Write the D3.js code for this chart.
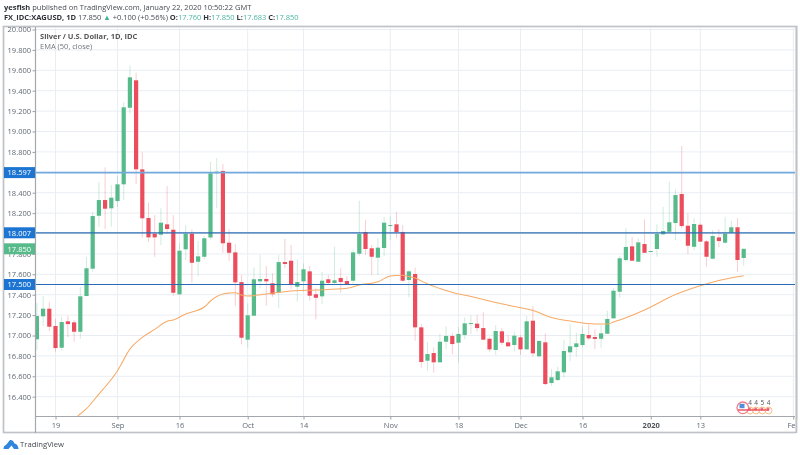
<!DOCTYPE html>
<html><head><meta charset="utf-8">
<script src="https://cdnjs.cloudflare.com/ajax/libs/d3/7.8.5/d3.min.js"></script>
<style>html,body{margin:0;padding:0;background:#fff;overflow:hidden}svg{display:block;filter:blur(0.42px)}text{font-family:"Open Sans","Noto Sans",sans-serif}</style>
</head><body><svg id="c" width="800" height="455"></svg>
<script>
const opens=[16.963,17.188,17.263,17.093,16.880,17.139,17.129,17.037,17.387,17.655,18.174,18.328,18.247,18.318,18.482,19.233,19.502,18.629,18.152,17.998,17.988,18.090,18.037,17.404,17.845,17.998,17.723,17.772,17.961,18.590,18.613,17.910,17.815,17.524,16.959,17.194,17.531,17.554,17.512,17.423,17.720,17.733,17.478,17.531,17.629,17.404,17.384,17.551,17.515,17.564,17.534,17.537,17.802,18.015,17.855,17.763,17.858,18.073,18.090,18.015,17.544,17.603,17.080,16.753,16.828,16.737,16.939,16.995,16.929,17.005,17.116,17.116,17.073,16.968,16.858,17.041,16.933,16.907,16.982,16.864,17.145,16.796,16.933,16.534,16.563,16.639,16.835,16.887,16.907,17.005,16.985,16.968,17.017,17.168,17.429,17.740,17.874,17.723,17.897,17.821,17.848,17.992,18.017,18.103,18.387,18.076,17.870,18.086,17.923,17.753,17.962,17.910,18.008,18.061,17.760];
const closes=[17.191,17.263,17.086,16.877,17.132,17.112,17.037,17.384,17.659,18.171,18.328,18.243,18.351,18.482,19.237,19.531,18.629,18.149,17.962,17.962,18.106,18.044,17.419,17.831,17.998,17.713,17.776,17.953,18.590,18.606,17.904,17.811,17.521,16.978,17.198,17.551,17.554,17.531,17.404,17.720,17.701,17.495,17.524,17.649,17.390,17.370,17.537,17.515,17.541,17.524,17.505,17.815,17.995,17.848,17.772,17.861,18.106,18.083,18.015,17.537,17.629,17.080,16.740,16.818,16.737,16.939,16.995,16.916,17.015,17.119,17.122,17.073,16.959,16.864,17.044,16.929,16.894,16.998,16.864,17.139,16.825,16.946,16.524,16.590,16.649,16.848,16.894,16.923,17.015,16.972,16.966,17.021,17.162,17.439,17.757,17.868,17.733,17.913,17.811,17.828,17.995,18.024,18.110,18.377,18.073,17.880,18.093,17.920,17.772,17.975,17.926,17.998,18.061,17.740,17.850];
const highs=[17.318,17.387,17.328,17.162,17.184,17.191,17.152,17.475,17.769,18.211,18.505,18.649,18.475,18.566,19.286,19.649,19.576,18.796,18.302,18.181,18.247,18.465,18.181,17.907,18.083,18.041,17.926,17.975,18.704,18.740,18.681,18.044,17.897,17.593,17.315,17.668,17.789,17.681,17.610,17.789,17.949,17.887,17.747,17.708,17.681,17.462,17.625,17.593,17.870,17.659,17.583,17.838,18.321,18.132,17.887,17.953,18.165,18.165,18.211,18.083,17.642,17.665,17.113,16.933,16.884,17.015,17.093,17.021,17.086,17.178,17.194,17.201,17.227,16.982,17.103,17.070,17.005,17.037,17.005,17.191,17.289,16.956,17.021,16.671,16.694,16.956,17.113,17.027,17.086,17.110,17.060,17.103,17.243,17.462,17.779,18.051,17.968,17.953,18.139,17.828,18.090,18.262,18.508,18.433,18.858,18.198,18.149,18.100,17.936,18.034,18.041,18.165,18.125,18.149,17.850];
const lows=[16.858,17.093,17.044,16.841,16.851,16.985,16.939,16.966,17.387,17.625,18.061,18.044,18.067,18.262,18.328,19.178,18.485,17.962,17.919,17.772,17.887,18.002,17.390,17.397,17.740,17.517,17.583,17.747,17.943,18.247,17.811,17.730,17.292,16.913,16.880,17.191,17.462,17.292,17.380,17.267,17.659,17.453,17.331,17.429,17.341,17.159,17.306,17.495,17.495,17.419,17.495,17.495,17.782,17.789,17.593,17.593,17.779,17.936,17.953,17.527,17.374,16.949,16.684,16.655,16.635,16.737,16.865,16.816,16.733,16.963,17.012,17.037,16.956,16.841,16.809,16.907,16.890,16.841,16.809,16.858,16.792,16.786,16.514,16.508,16.554,16.590,16.750,16.792,16.884,16.956,16.867,16.880,17.015,17.168,17.370,17.723,17.733,17.723,17.806,17.821,17.772,17.985,18.017,17.936,18.051,17.799,17.838,17.920,17.674,17.747,17.865,17.897,18.002,17.625,17.683];
const emaIndex=[6.6,8,10,11,13,15,17,19,21,22,24,27,28,29,30,31,32,33,34,37,41,45,50,52,55,57,59,60,61,63,65,67,70,74,78,80,83,86,90,92,93,94,98,103,107,110,114];
const emaValues=[16.211,16.282,16.426,16.495,16.655,16.867,16.982,17.060,17.139,17.152,17.211,17.279,17.338,17.382,17.407,17.416,17.419,17.397,17.387,17.407,17.436,17.446,17.463,17.495,17.527,17.583,17.590,17.578,17.563,17.505,17.461,17.421,17.382,17.323,17.272,17.245,17.176,17.142,17.112,17.112,17.132,17.152,17.250,17.402,17.488,17.539,17.586];
const priceTicks=[20,19.8,19.6,19.4,19.2,19,18.8,18.6,18.4,18.2,18,17.8,17.6,17.4,17.2,17,16.8,16.6,16.4];
const hiddenPriceTicks=[18.6,18];
const timeTickIndex=[3,13,23,34,43,57,68,78,88,99,107,122];
const timeTickLabels=["19","Sep","16","Oct","14","Nov","18","Dec","16","2020","13","Feb"];
const levelLines=[18.597,18.007,17.5];
const levelColors=["#74a9de","#2a6cb4","#2a6cb4"];
const levelWidths=[1.8,1.2,1.2];
const lastPrice=17.85;
const eventCounts=["4","4","5","4"];
const eventIndex=[114,115,116,117];

const svg=d3.select("#c");
const L=36,R=795,T=27,B=416,FS=7.5;
const x=d3.scaleLinear().domain([0,122]).range([36.9,793.3]);
const y=d3.scaleLinear().domain([20,16.4]).range([29.5,396.7]);
const GREEN="#56ba8a",RED="#eb4d5c",TXT="#5f6973";

svg.append("defs").append("clipPath").attr("id","p").append("rect").attr("x",L).attr("y",T).attr("width",R-L).attr("height",B-T);

// frame
svg.append("rect").attr("x",3.5).attr("y",26.5).attr("width",793).attr("height",406).attr("fill","#fff").attr("stroke","#bfc2c6").attr("stroke-width",1.7);

// grid
const g=svg.append("g").attr("clip-path","url(#p)");
g.selectAll(".h").data(priceTicks).join("line").attr("x1",L).attr("x2",R).attr("y1",d=>y(d)).attr("y2",d=>y(d)).attr("stroke","#e9edf3").attr("stroke-width",1);
g.selectAll(".v").data(timeTickIndex).join("line").attr("y1",T).attr("y2",B).attr("x1",d=>x(d)).attr("x2",d=>x(d)).attr("stroke","#e8eef3").attr("stroke-width",1);

// candles
const idx=d3.range(opens.length);
const col=i=>closes[i]>=opens[i]?GREEN:RED;
g.selectAll(".w").data(idx).join("line").attr("x1",x).attr("x2",x).attr("y1",i=>y(highs[i])).attr("y2",i=>y(lows[i])).attr("stroke",col).attr("stroke-opacity",0.28).attr("stroke-width",1);
g.selectAll(".b").data(idx).join("rect").attr("x",i=>x(i)-2.1).attr("width",4.2)
 .attr("y",i=>y(Math.max(opens[i],closes[i]))).attr("height",i=>Math.max(1,Math.abs(y(opens[i])-y(closes[i])))).attr("fill",col);

// EMA
const ema=d3.line().x((d,i)=>x(emaIndex[i])).y(d=>y(d)).curve(d3.curveMonotoneX);
g.append("path").datum(emaValues).attr("d",ema).attr("fill","none").attr("stroke","#f7aa66").attr("stroke-width",1.05);

// level lines
g.selectAll(".l").data(levelLines).join("line").attr("x1",L).attr("x2",R).attr("y1",d=>y(d)).attr("y2",d=>y(d)).attr("stroke",(d,i)=>levelColors[i]).attr("stroke-width",(d,i)=>levelWidths[i]);

// axes
const ay=svg.append("g").attr("transform",`translate(${L-0.5},0)`).call(d3.axisLeft(y).tickValues(priceTicks).tickFormat(d=>hiddenPriceTicks.includes(d)?"":d3.format(".3f")(d)).tickSize(3).tickPadding(1.5));
ay.selectAll("text").attr("font-size",FS).attr("fill",TXT);
ay.selectAll("line").attr("stroke","#9aa0a6");
ay.select(".domain").attr("d",`M0,${T}V${B+17}`).attr("stroke","#a4a8ac").attr("stroke-width",1.2);

const ax=svg.append("g").attr("transform",`translate(0,${B+0.5})`).call(d3.axisBottom(x).tickValues(timeTickIndex).tickFormat((d,i)=>timeTickLabels[i]).tickSize(3).tickPadding(3));
ax.selectAll("text").attr("font-size",FS).attr("font-weight",(d,i)=>timeTickLabels[i]==="2020"?700:400).attr("fill",(d,i)=>timeTickLabels[i]==="2020"?"#4c5359":TXT);
ax.selectAll("line").attr("stroke","#9aa0a6");
ax.select(".domain").attr("d",`M${L},0H${R}`).attr("stroke","#a4a8ac").attr("stroke-width",1.2);
// right frame cover so the Feb label stops at the border, as in the source
svg.append("rect").attr("x",796).attr("y",420).attr("width",4).attr("height",16).attr("fill","#fff");
svg.append("line").attr("x1",796.5).attr("x2",796.5).attr("y1",26).attr("y2",433).attr("stroke","#bfc2c6").attr("stroke-width",1.7);

// price labels
const labs=levelLines.map(v=>({v,c:"#1c75d3"})).concat([{v:lastPrice,c:GREEN}]);
labs.forEach(d=>{
  svg.append("rect").attr("x",4).attr("y",y(d.v)-5.5).attr("width",31).attr("height",11).attr("fill",d.c);
  svg.append("text").attr("x",31).attr("y",y(d.v)+2.8).attr("text-anchor","end").attr("font-size",FS).attr("font-weight",500).attr("fill","#fff").text(d.v.toFixed(3));
});

// header
const head=svg.append("g");
const t1=head.append("text").attr("x",4).attr("y",10).attr("font-size",FS).attr("fill","#454a50");
t1.append("tspan").attr("font-weight",700).attr("fill","#2f3338").text("yesfish");
t1.append("tspan").text(" published on TradingView.com, January 22, 2020 10:50:22 GMT");
const t2=head.append("text").attr("x",4).attr("y",20).attr("font-size",FS).attr("fill","#454a50");
t2.append("tspan").attr("font-weight",700).attr("fill","#2f3338").text("FX_IDC:XAGUSD, 1D");
t2.append("tspan").text("  17.850 ");
t2.append("tspan").attr("fill","#3fb39a").text("▲");
t2.append("tspan").text(" +0.100 (+0.56%) ");
[["O:","17.760"],["H:","17.850"],["L:","17.683"],["C:","17.850"]].forEach(p=>{
  t2.append("tspan").attr("font-weight",700).attr("fill","#2f3338").text(p[0]);
  t2.append("tspan").attr("fill","#4db6a4").text(p[1]+" ");
});
svg.append("text").attr("x",40).attr("y",38.6).attr("font-size",FS).attr("font-weight",700).attr("fill","#555").text("Silver / U.S. Dollar, 1D, IDC");
svg.append("text").attr("x",40).attr("y",48.6).attr("font-size",FS).attr("fill","#6f757b").text("EMA (50, close)");

// events marker
const ev=svg.append("g");
ev.selectAll("circle.o").data(eventCounts).join("circle").attr("class","o").attr("cx",(d,i)=>x(eventIndex[i])+6.3).attr("cy",410.5).attr("r",3.4).attr("fill","#fff").attr("stroke","#f8bd84").attr("stroke-width",1);
ev.append("circle").attr("cx",742.8).attr("cy",407.8).attr("r",5.8).attr("fill","#fff").attr("stroke","#ef7f8b").attr("stroke-width",1.3);
ev.append("rect").attr("x",739.5).attr("y",403.8).attr("width",5).attr("height",4.4).attr("fill","#4f8fdc");
ev.selectAll("circle.r").data(eventCounts).join("circle").attr("class","r").attr("cx",(d,i)=>x(eventIndex[i])+5.8).attr("cy",409).attr("r",1.5).attr("fill","#f2707d");
ev.append("rect").attr("x",738).attr("y",409.3).attr("width",31).attr("height",1.4).attr("fill","#ec4c5a");
ev.selectAll("text").data(eventCounts).join("text").attr("x",(d,i)=>x(eventIndex[i])+6.3).attr("y",405.3).attr("text-anchor","middle").attr("font-size",6.5).attr("fill","#555").text(d=>d);

// TradingView brand
const br=svg.append("g");
br.append("path").attr("d","M3.5 449 Q3.5 445.5 6 445 L10 440 Q11.5 439.5 13 441 L14.5 443.5 Q18 444 18.5 449 L14 449 L11.5 445.5 L8.5 449 Z").attr("fill","#2f86dc");
br.append("text").attr("x",20).attr("y",447).attr("font-size",7.7).attr("font-weight",500).attr("fill","#454a50").text("TradingView");
</script></body></html>
